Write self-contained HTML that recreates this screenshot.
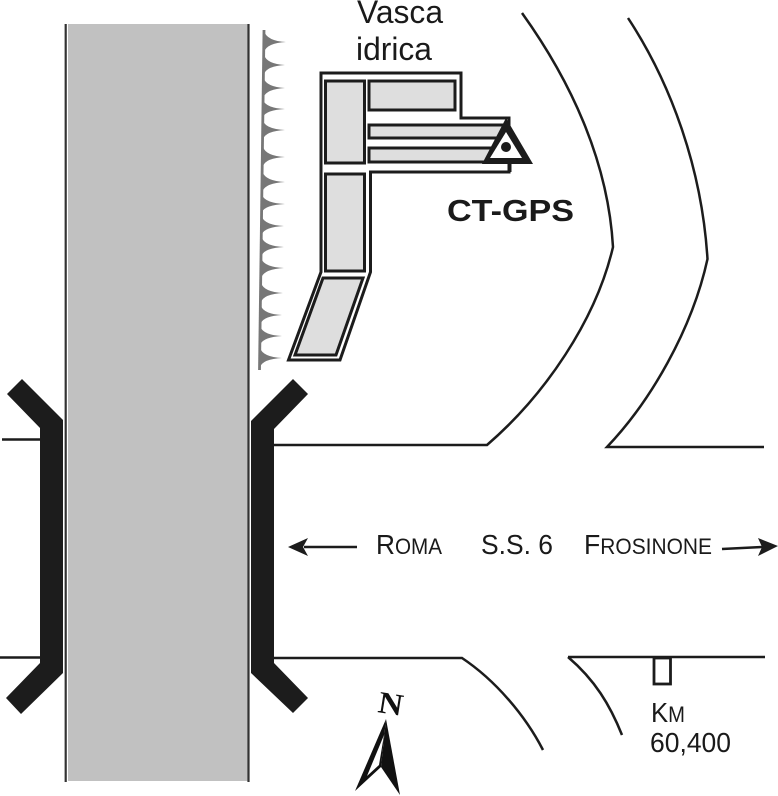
<!DOCTYPE html>
<html><head><meta charset="utf-8"><style>
html,body{margin:0;padding:0;background:#fff}
svg{display:block}
text{font-family:"Liberation Sans",sans-serif;fill:#1a1a1a}
</style></head><body>
<svg width="778" height="796" viewBox="0 0 778 796" xmlns="http://www.w3.org/2000/svg">
<rect width="778" height="796" fill="#fff"/>
<!-- runway -->
<rect x="68" y="24" width="179.500" height="757" fill="#c1c1c1"/>
<path d="M65.700,24V782M248.500,24V782" stroke="#333" stroke-width="2.200" fill="none"/>
<!-- black brackets -->
<polygon points="22,379 7,394 40,428 40,663 6,698 21,714 63,673 63,420" fill="#1c1c1c"/>
<polygon points="293,379 308,394 274,429 274,663 308,698 293,713 251,673 251,421" fill="#1c1c1c"/>
<!-- roads -->
<g stroke="#1c1c1c" stroke-width="2.500" fill="none">
<path d="M2,439.500H40M0,657.500H40"/>
<path d="M274,445H487C545,395 596,320 613,247C608,160 570,80 522,13"/>
<path d="M628,18C672,85 702,170 707.500,259C692,330 650,402 607,447H764"/>
<path d="M274,658H462C495,680 525,715 543,750"/>
<path d="M568,657H765M568,657C595,680 610,705 622,735"/>
</g>
<rect x="654" y="658" width="16.500" height="26" fill="#fff" stroke="#1c1c1c" stroke-width="2.800"/>
<!-- serrated line -->
<path d="M264,30L259.500,370" stroke="#777" stroke-width="2.800" fill="none"/>
<g fill="#777">
<path d="M264,31q3,10 22,11q-19,1 -22,10z"/>
<path d="M264,55q3,9 21,10q-18,1 -21,9z"/>
<path d="M263.500,78q3,9 21.500,10q-18,1 -21.500,9z"/>
<path d="M263,100q3,8 22,9q-19,1 -22,8z"/>
<path d="M263,121q3,8 22,9q-19,1 -22,9z"/>
<path d="M263,147q3,9 22,10q-19,1 -22,9z"/>
<path d="M262.500,172q3,9 22.500,10q-19,1 -22.500,9z"/>
<path d="M262,195q3,8 23,9q-20,1 -23,8z"/>
<path d="M262,217q3,8 22,9q-19,1 -22,8z"/>
<path d="M262,238q3,8 22,9q-19,1 -22,8z"/>
<path d="M261.500,259q3,8 22.500,9q-19,1 -22.500,9z"/>
<path d="M261,283q3,9 22,10q-19,1 -22,9z"/>
<path d="M261,306q3,8 21,9q-18,1 -21,8z"/>
<path d="M260.500,327q3,8 21.500,9q-18,1 -21.500,8z"/>
<path d="M260,348q3,9 22,10q-19,1 -22,9z"/>
</g>
<!-- building outline -->
<path d="M321,73H461V118H509V172H370.500V272L340,360H288.500L321,272Z" fill="#fff" stroke="#1c1c1c" stroke-width="3" stroke-linejoin="miter"/>
<g fill="#dedede" stroke="#1c1c1c" stroke-width="3">
<rect x="325.500" y="81" width="39" height="82"/>
<rect x="369" y="81" width="86" height="29"/>
<rect x="369" y="125" width="134" height="13"/>
<rect x="369" y="148" width="125" height="14"/>
<rect x="325.500" y="174" width="39" height="97"/>
<polygon points="323,278 363,278 336,355 295,355"/>
</g>
<!-- triangle marker -->
<polygon points="506,118 533,164 482,164" fill="#1c1c1c"/>
<polygon points="506,132 522,158 490,158" fill="#fff"/>
<circle cx="506" cy="147" r="5" fill="#1c1c1c"/>
<path d="M510,164V172" stroke="#1c1c1c" stroke-width="3"/>
<!-- labels -->
<text x="357" y="23" font-size="32" textLength="86" lengthAdjust="spacingAndGlyphs">Vasca</text>
<text x="356" y="60" font-size="32" textLength="76" lengthAdjust="spacingAndGlyphs">idrica</text>
<text x="447" y="221" font-size="31" font-weight="bold" textLength="127" lengthAdjust="spacingAndGlyphs">CT-GPS</text>
<text x="376" y="554" font-size="28" textLength="66" lengthAdjust="spacingAndGlyphs">R<tspan font-size="22">OMA</tspan></text>
<text x="481" y="554" font-size="28" textLength="72" lengthAdjust="spacingAndGlyphs">S.S. 6</text>
<text x="584" y="554" font-size="28" textLength="128" lengthAdjust="spacingAndGlyphs">F<tspan font-size="22">ROSINONE</tspan></text>
<text x="651" y="722" font-size="28" textLength="34" lengthAdjust="spacingAndGlyphs">K<tspan font-size="22">M</tspan></text>
<text x="650" y="752" font-size="28" textLength="81" lengthAdjust="spacingAndGlyphs">60,400</text>
<!-- road arrows -->
<path d="M304,547H357" stroke="#1c1c1c" stroke-width="2.500"/>
<polygon points="288,547 308,538 303,547 308,556" fill="#1c1c1c"/>
<path d="M722,549L762,547" stroke="#1c1c1c" stroke-width="2.500"/>
<polygon points="778,546 758,538 762,547 758,556" fill="#1c1c1c"/>
<!-- north arrow -->
<polygon points="386,719 400,795 381,767" fill="#111"/>
<polygon points="386,719 381,767 355,791" fill="#111"/>
<polygon points="384,735 379,765 367,776" fill="#fff"/>
<text x="0" y="0" font-size="31" font-weight="bold" transform="translate(377,712) rotate(9) scale(1.100,1)" style="font-family:'Liberation Serif',serif;fill:#111">N</text>
</svg>
</body></html>
